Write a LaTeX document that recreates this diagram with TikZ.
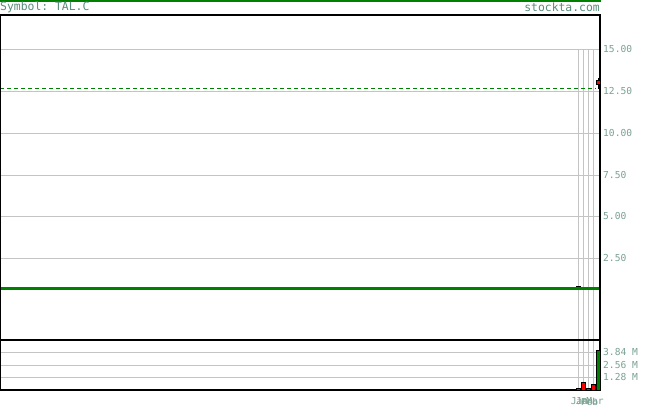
\documentclass[tikz,border=0pt]{standalone}
\usepackage{fontspec}
\setmonofont{DejaVu Sans Mono}
\definecolor{ttl}{HTML}{5A8C7C}
\definecolor{axl}{HTML}{7AA292}
\definecolor{gridc}{HTML}{C4C4C4}
\definecolor{grn}{HTML}{008000}
\begin{document}
\begin{tikzpicture}[x=1pt,y=-1pt,
  grid/.style={draw=gridc,line width=1pt},
  frame/.style={draw=black,line width=1.2pt},
  axlabel/.style={anchor=west,inner sep=0pt,text=axl,font=\ttfamily\fontsize{9.6}{10}\selectfont},
  mlabel/.style={anchor=center,inner sep=0pt,text=axl,font=\ttfamily\fontsize{9.6}{10}\selectfont},
  title/.style={inner sep=0pt,text=ttl,font=\ttfamily\fontsize{11.4}{12}\selectfont},
  upbar/.style={fill=grn,draw=black,line width=0.8pt},
  dnbar/.style={fill=red,draw=black,line width=0.8pt}]
\useasboundingbox (0,0) rectangle (655,406);
\fill[white] (0,0) rectangle (655,406);
% top green rule
\draw[grn,line width=2pt] (0,1) -- (601,1);
\node[title,anchor=west] (sym) at (0,7.5) {Symbol: TAL.C};
\node[title,anchor=east] (site) at (600,7.5) {stockta.com};
% horizontal grid (price)
\foreach \yy in {50,91.7,133.3,175,216.7,258.3} \draw[grid] (0,\yy) -- (600,\yy);
% horizontal grid (volume)
\foreach \yy in {352.3,365,377.5} \draw[grid] (0,\yy) -- (600,\yy);
% vertical grid
\foreach \xx in {578.3,583.3,588.5,593.5} {\draw[grid] (\xx,50) -- (\xx,340); \draw[grid] (\xx,340) -- (\xx,390);}
% lines
\draw[grn,line width=2.4pt] (0,288.3) -- (600,288.3);
\draw[grn,line width=1pt,dash pattern=on 4pt off 3pt] (0,88.5) -- (596,88.5);
% frames
\draw[frame] (0.6,15) rectangle (600,340);
\draw[frame] (0.6,340) rectangle (600,390);
% candles
\draw[black,line width=1.2pt] (576,286.3) -- (580.7,286.3);
\draw[black,line width=0.8pt] (598.2,78) -- (598.2,89);
\draw[dnbar] (596,80) rectangle (600.3,84.7);
% volume bars
\draw[upbar] (576,388) rectangle (580,390);
\draw[dnbar] (581.7,382) rectangle (585.7,390);
\draw[upbar] (586.3,388) rectangle (590.3,390);
\draw[dnbar] (591.3,384) rectangle (595.3,390);
\draw[upbar] (596,350) rectangle (600,390);
% right axis labels
\node[axlabel] (p15) at (603,49.5) {15.00};
\node[axlabel] (p125) at (603,91.2) {12.50};
\node[axlabel] (p10) at (603,132.8) {10.00};
\node[axlabel] (p75) at (603,174.8) {7.50};
\node[axlabel] (p5) at (603,216.3) {5.00};
\node[axlabel] (p25) at (603,258) {2.50};
\node[axlabel] (v384) at (603,352.3) {3.84 M};
\node[axlabel] (v256) at (603,365) {2.56 M};
\node[axlabel] (v128) at (603,377.5) {1.28 M};
% month labels
\node[mlabel] (m1) at (579.5,401.5) {Jan};
\node[mlabel] (m2) at (584.5,401.5) {Jan};
\node[mlabel] (m3) at (589.5,401.5) {Feb};
\node[mlabel] (m4) at (595,401.5) {Mar};
\end{tikzpicture}
\end{document}
